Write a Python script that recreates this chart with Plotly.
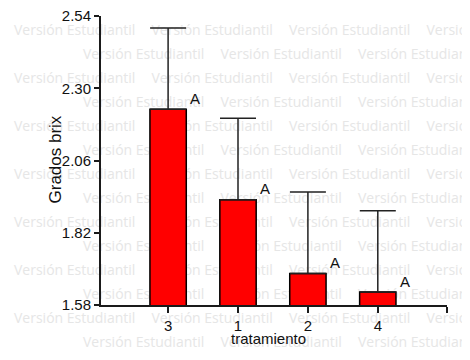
import plotly.graph_objects as go

# ---- data ----
categories = ["3", "1", "2", "4"]
values = [2.23, 1.93, 1.685, 1.623]
errors = [0.27, 0.27, 0.27, 0.27]
letters = ["A", "A", "A", "A"]
y_ticks = [1.58, 1.82, 2.06, 2.30, 2.54]
y_tick_labels = ["1.58", "1.82", "2.06", "2.30", "2.54"]
x_title = "tratamiento"
y_title = "Grados brix"
watermark = "Versión Estudiantil"

W, H = 470, 360
OFF = 8  # page offset of the figure in the browser window
L, R, T, B = 101 - OFF, 447 - OFF, 16 - OFF, 305 - OFF
FONT = "Liberation Sans, Arial, sans-serif"
AX = "#1a1a1a"
TXT = "#111111"

fig = go.Figure()

# ---- watermark pattern (background subplot, drawn first) ----
wx, wy = [], []
for k in range(16):
    yy = 7 + 24 * k - OFF
    start = (83 if k % 2 == 0 else 14) - OFF
    x0 = start
    while x0 > -140:
        x0 -= 137.5
    while x0 < W:
        wx.append(x0)
        wy.append(yy)
        x0 += 137.5
fig.add_trace(go.Scatter(
    x=wx, y=wy, mode="text", text=[watermark] * len(wx),
    textposition="middle right",
    textfont=dict(family="Open Sans, sans-serif", size=14, color="#e6e6e6"),
    cliponaxis=False, hoverinfo="skip", showlegend=False,
    xaxis="x", yaxis="y",
))

# ---- main bars ----
xs = list(range(len(categories)))
fig.add_trace(go.Bar(
    x=xs, y=values, width=0.52,
    marker=dict(color="#ff0000", line=dict(color="#000000", width=1.5)),
    error_y=dict(type="data", symmetric=False, array=errors,
                 arrayminus=[0] * len(errors), color="#222222",
                 thickness=1.5, width=18),
    xaxis="x2", yaxis="y2", showlegend=False,
))

for i, (v, e, t) in enumerate(zip(values, errors, letters)):
    fig.add_annotation(x=i + 0.39, y=v, xref="x2", yref="y2", text=t,
                       showarrow=False, yshift=11,
                       font=dict(family=FONT, size=15, color=TXT))

fig.add_annotation(x=(268 - OFF) / W, y=1 - (349 - OFF) / H,
                   xref="paper", yref="paper",
                   text=x_title, showarrow=False,
                   font=dict(family=FONT, size=15, color=TXT))
fig.add_annotation(x=(43 - OFF) / W, y=1 - (160 - OFF) / H,
                   xref="paper", yref="paper",
                   text=y_title, showarrow=False, textangle=-90,
                   font=dict(family=FONT, size=17, color=TXT))

x_range = [-0.96, 3.99]
fig.update_layout(
    width=W, height=H,
    margin=dict(l=0, r=0, t=0, b=0, pad=0, autoexpand=False),
    paper_bgcolor="white", plot_bgcolor="rgba(0,0,0,0)",
    showlegend=False,
    xaxis=dict(domain=[0, 1], range=[0, W], visible=False, fixedrange=True,
               automargin=False),
    yaxis=dict(domain=[0, 1], range=[H, 0], visible=False, fixedrange=True,
               automargin=False),
    xaxis2=dict(domain=[L / W, R / W], range=x_range, anchor="y2",
                automargin=False, ticklabeloverflow="allow",
                tickmode="array", tickvals=xs + [3.988],
                ticktext=categories + [""],
                showline=True, linecolor=AX, linewidth=2,
                ticks="outside", ticklen=6, tickwidth=1.5, tickcolor=AX,
                showgrid=False, zeroline=False,
                tickfont=dict(family=FONT, size=15, color=TXT)),
    yaxis2=dict(domain=[1 - B / H, 1 - T / H], range=[1.58, 2.54], anchor="x2",
                automargin=False, ticklabeloverflow="allow",
                tickmode="array", tickvals=y_ticks, ticktext=y_tick_labels,
                showline=True, linecolor=AX, linewidth=2,
                ticks="outside", ticklen=5, tickwidth=1.5, tickcolor=AX,
                showgrid=False, zeroline=False,
                tickfont=dict(family=FONT, size=15, color=TXT)),
)

fig.write_html("out.html")
